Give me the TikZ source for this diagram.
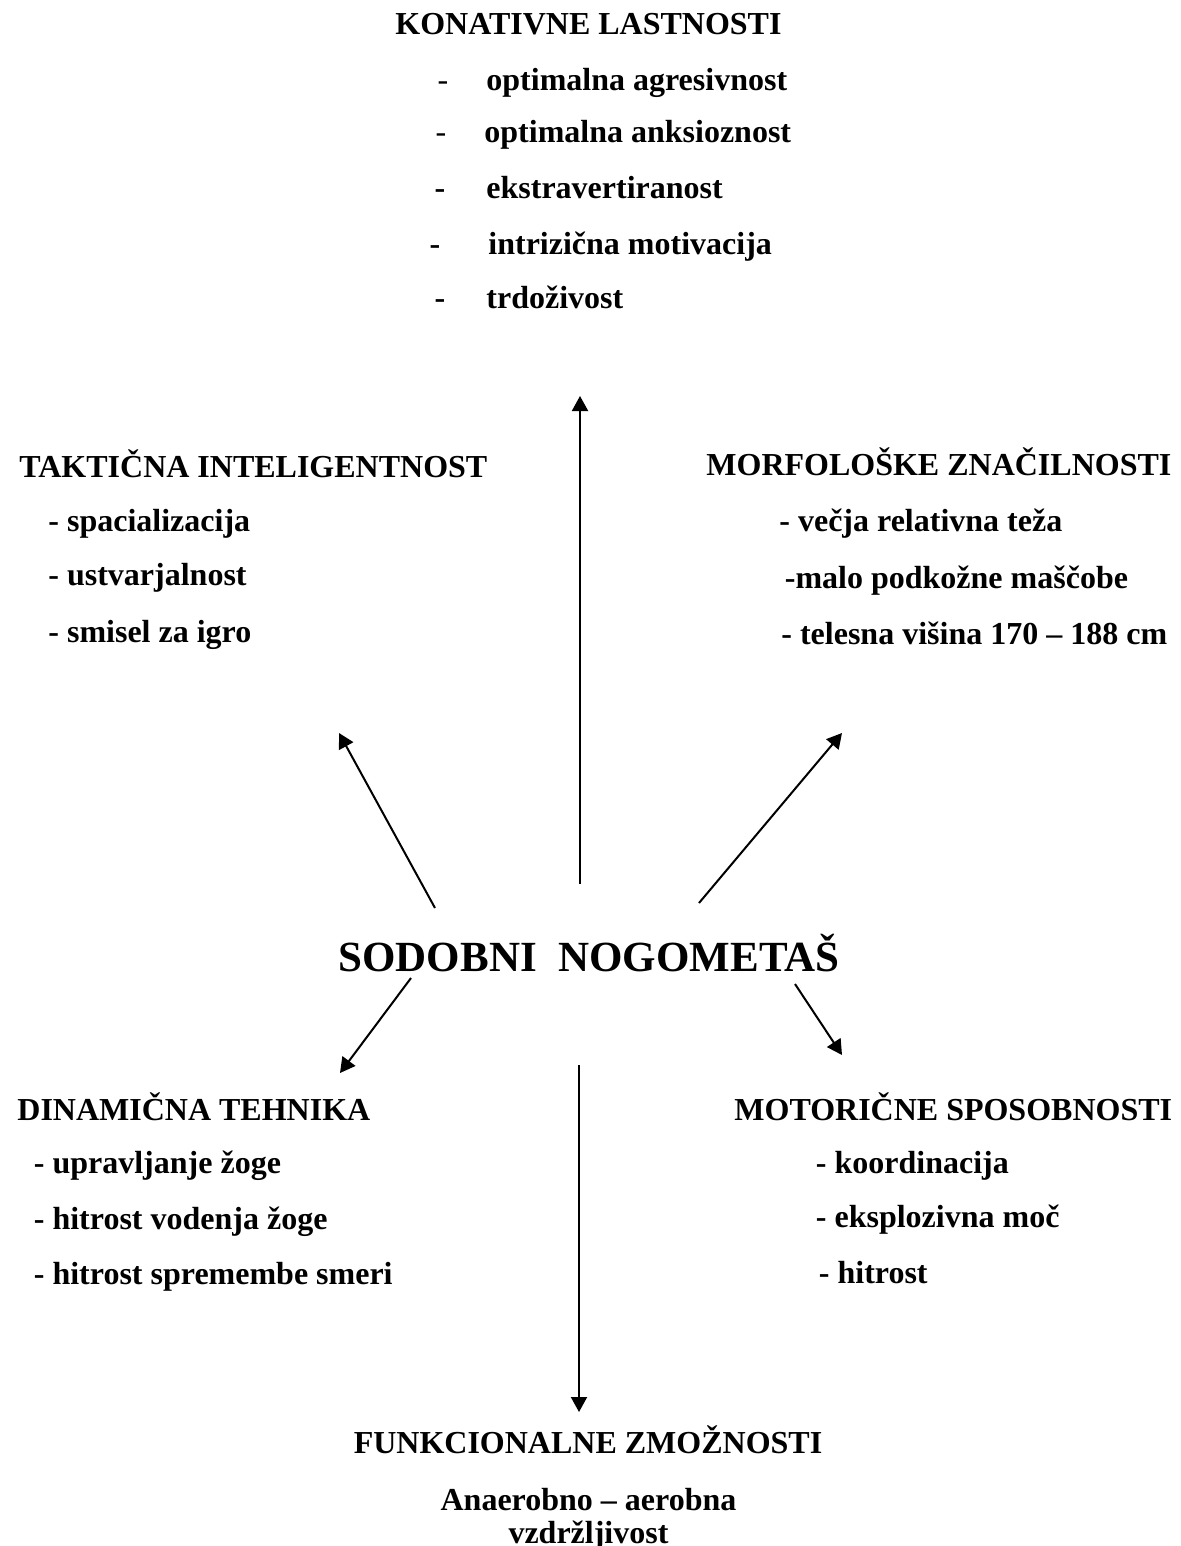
\documentclass[tikz,border=0pt]{standalone}
\usepackage{fontspec}
\setmainfont{Liberation Serif}
\usetikzlibrary{arrows.meta}
\begin{document}
\begin{tikzpicture}[x=0.5pt,y=-0.5pt,
  txt/.style={inner sep=0pt, anchor=base west, font=\fontsize{16}{19}\selectfont\bfseries},
  ctxt/.style={inner sep=0pt, anchor=base, font=\fontsize{16}{19}\selectfont\bfseries},
  thindash/.style={inner sep=0pt, anchor=base, font=\fontsize{16}{19}\selectfont\mdseries},
  bolddash/.style={inner sep=0pt, anchor=base, font=\fontsize{16}{19}\selectfont\bfseries},
  bigtxt/.style={inner sep=0pt, anchor=base, font=\fontsize{21.5}{25}\selectfont\bfseries},
  arr/.style={line width=1pt, -{Triangle[length=7.5pt,width=8pt]}}]
\useasboundingbox (0,0) rectangle (1181,1546);
% top block
\node[ctxt] (kon) at (588.5,35) {KONATIVNE LASTNOSTI};
\node[thindash] (k1d) at (443,91) {-};
\node[txt] (k1) at (486,91) {optimalna agresivnost};
\node[thindash] (k2d) at (441,143) {-};
\node[txt] (k2) at (484,143) {optimalna anksioznost};
\node[bolddash] (k3d) at (440,199) {-};
\node[txt] (k3) at (486,199) {ekstravertiranost};
\node[bolddash] (k4d) at (435,255) {-};
\node[txt] (k4) at (488,255) {intrizična motivacija};
\node[bolddash] (k5d) at (440,308) {-};
\node[txt] (k5) at (486,308) {trdoživost};
% upper left
\node[txt] (tak) at (19,477) {TAKTIČNA INTELIGENTNOST};
\node[txt] (t1) at (48,531) {- spacializacija};
\node[txt] (t2) at (48,585) {- ustvarjalnost};
\node[txt] (t3) at (48,642) {- smisel za igro};
% upper right
\node[txt] (mor) at (706,475) {MORFOLOŠKE ZNAČILNOSTI};
\node[txt] (m1) at (779,531) {- večja relativna teža};
\node[txt] (m2) at (784.5,588) {-malo podkožne maščobe};
\node[txt] (m3) at (781,644) {- telesna višina 170 – 188 cm};
% centre
\node[bigtxt] (sod) at (589,971) {SODOBNI\ \ NOGOMETAŠ};
% lower left
\node[txt] (din) at (17,1120) {DINAMIČNA TEHNIKA};
\node[txt] (d1) at (33.5,1173) {- upravljanje žoge};
\node[txt] (d2) at (33.5,1229) {- hitrost vodenja žoge};
\node[txt] (d3) at (33.5,1284) {- hitrost spremembe smeri};
% lower right
\node[txt] (mot) at (734,1120) {MOTORIČNE SPOSOBNOSTI};
\node[txt] (o1) at (815.5,1173) {- koordinacija};
\node[txt] (o2) at (815.5,1227) {- eksplozivna moč};
\node[txt] (o3) at (818.5,1283) {- hitrost};
% bottom
\node[ctxt] (fun) at (588,1453) {FUNKCIONALNE ZMOŽNOSTI};
\node[ctxt] (f1) at (588.5,1510) {Anaerobno – aerobna};
\node[ctxt] (f2) at (588.5,1543) {vzdržljivost};
% connector ends
\coordinate (upS) at (580,884);
\coordinate (upE) at (580,396);
\coordinate (dnS) at (579,1065);
\coordinate (dnE) at (579,1412);
\coordinate (ulS) at (435,908);
\coordinate (ulE) at (339,733);
\coordinate (urS) at (699,903);
\coordinate (urE) at (842,733);
\coordinate (llS) at (411,978);
\coordinate (llE) at (340,1073);
\coordinate (lrS) at (795,984);
\coordinate (lrE) at (842,1055);
\draw[arr] (upS) -- (upE);
\draw[arr] (dnS) -- (dnE);
\draw[arr] (ulS) -- (ulE);
\draw[arr] (urS) -- (urE);
\draw[arr] (llS) -- (llE);
\draw[arr] (lrS) -- (lrE);
\end{tikzpicture}
\end{document}
